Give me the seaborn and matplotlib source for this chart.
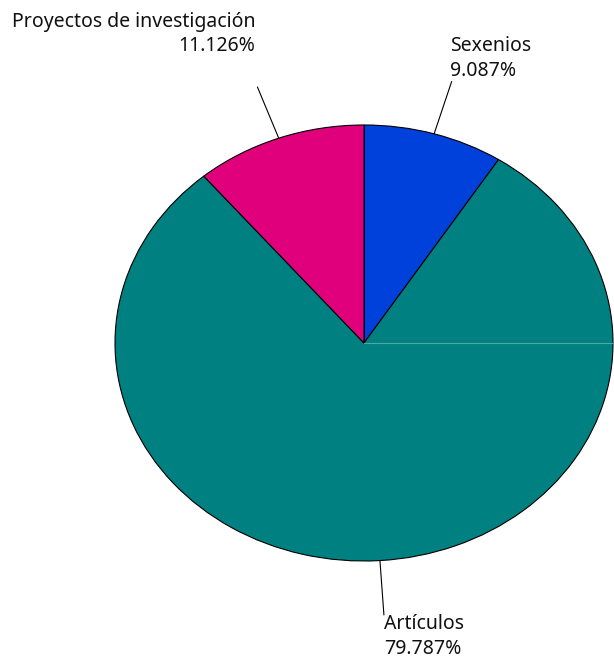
import numpy as np
import matplotlib
matplotlib.use('Agg')
import matplotlib.pyplot as plt
import seaborn as sns

# ---- Datos del gráfico ----
categorias = ['Sexenios', 'Artículos', 'Proyectos de investigación']
porcentajes = [9.087, 79.787, 11.126]
colores = ['#0041DC', '#008080', '#E0007C']

sns.set_style('white')
plt.rcParams['font.family'] = ['Noto Sans', 'DejaVu Sans']

fig = plt.figure(figsize=(6.14, 6.59), dpi=100)
ax = fig.add_axes([0, 0, 1, 1])

wedges, _ = ax.pie(porcentajes, colors=colores, startangle=90, counterclock=False,
                   wedgeprops={'edgecolor': 'black', 'linewidth': 0.8})

# linea clara en el radio horizontal (como en la original)
ax.plot([0, 1], [0, 0], color='#4fa8a8', lw=0.8, zorder=5)

# desplazamiento de cada etiqueta (en puntos)
desplaz = [(-1.5, 0.5), (0, 0.5), (-1.5, 22)]

for w, cat, pct, off in zip(wedges, categorias, porcentajes, desplaz):
    ang = np.deg2rad((w.theta1 + w.theta2) / 2)
    x0, y0 = np.cos(ang), np.sin(ang)
    x1, y1 = 1.25 * x0, 1.25 * y0
    ax.plot([x0, x1], [y0, y1], color='black', lw=0.8)
    ha = 'left' if x0 >= 0.05 or abs(x0) < 0.1 else 'right'
    va = 'bottom' if y0 > 0 else 'top'
    ax.annotate(f'{cat}\n{pct:.3f}%', xy=(x1, y1), xytext=off,
                textcoords='offset points', ha=ha, va=va,
                multialignment=ha, fontsize=14, color='#111111',
                linespacing=1.32)

ax.set_aspect('auto')
ax.set_xlim(-364 / 249, 250 / 249)
ax.set_ylim(-316 / 218, 343 / 218)
ax.axis('off')

plt.savefig('out.png', dpi=100)
